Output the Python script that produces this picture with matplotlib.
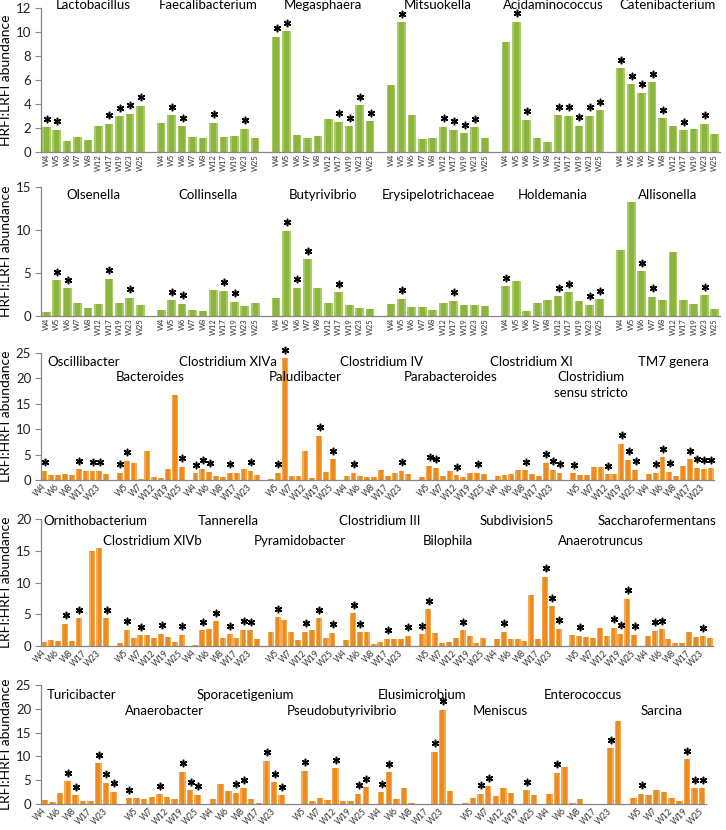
import matplotlib
matplotlib.use('Agg')
import matplotlib.pyplot as plt
import matplotlib.transforms as mtransforms
import numpy as np

plt.rcParams['font.family'] = ['Lato', 'DejaVu Sans']

weeks = ['W4', 'W5', 'W6', 'W7', 'W8', 'W12', 'W17', 'W19', 'W23', 'W25']

# ---- panel 1 (HRFI:LRFI) ----
row1_genera = ['Lactobacillus', 'Faecalibacterium', 'Megasphaera', 'Mitsuokella',
               'Acidaminococcus', 'Catenibacterium']
row1_values = [
    [2.06, 1.86, 0.89, 1.25, 1.03, 2.14, 2.36, 2.97, 3.19, 3.86],
    [2.42, 3.05, 2.16, 1.22, 1.17, 2.44, 1.27, 1.32, 1.92, 1.16],
    [9.60, 10.05, 1.42, 1.20, 1.33, 2.77, 2.50, 2.14, 3.90, 2.55],
    [5.60, 10.80, 3.08, 1.06, 1.19, 2.11, 1.86, 1.58, 2.08, 1.14],
    [9.14, 10.86, 2.70, 1.14, 0.86, 3.08, 3.03, 2.19, 3.03, 3.47],
    [6.97, 5.64, 4.92, 5.80, 2.80, 2.14, 1.80, 1.92, 2.36, 1.53],
]
row1_stars = [
    ['W4', 'W5', 'W17', 'W19', 'W23', 'W25'],
    ['W5', 'W6', 'W12', 'W23'],
    ['W4', 'W5', 'W17', 'W19', 'W23', 'W25'],
    ['W5', 'W12', 'W17', 'W19', 'W23'],
    ['W5', 'W6', 'W12', 'W17', 'W19', 'W23', 'W25'],
    ['W4', 'W5', 'W6', 'W7', 'W8', 'W17', 'W23'],
]

# ---- panel 2 (HRFI:LRFI) ----
row2_genera = ['Olsenella', 'Collinsella', 'Butyrivibrio', 'Erysipelotrichaceae',
               'Holdemania', 'Allisonella']
row2_values = [
    [0.43, 4.17, 3.23, 1.52, 0.93, 1.44, 4.36, 1.52, 2.10, 1.29],
    [0.66, 1.83, 1.44, 0.74, 0.58, 3.00, 2.92, 1.68, 1.17, 1.52],
    [2.14, 9.93, 3.31, 6.58, 3.23, 1.52, 2.77, 1.29, 0.90, 0.78],
    [1.36, 2.03, 1.01, 1.05, 0.74, 1.52, 1.75, 1.29, 1.29, 1.21],
    [3.47, 4.09, 0.58, 1.52, 1.83, 2.30, 2.77, 1.75, 1.29, 1.95],
    [7.64, 13.20, 5.22, 2.26, 1.83, 7.44, 1.83, 1.36, 2.42, 0.82],
]
row2_stars = [
    ['W5', 'W6', 'W17', 'W23'],
    ['W5', 'W6', 'W17', 'W19'],
    ['W5', 'W6', 'W7', 'W17'],
    ['W5', 'W17'],
    ['W4', 'W12', 'W17', 'W23', 'W25'],
    ['W6', 'W7', 'W23'],
]

# ---- panel 3 (LRFI:HRFI) ----
row3_genera = ['Oscillibacter', 'Bacteroides', 'Clostridium XlVa', 'Paludibacter',
               'Clostridium IV', 'Parabacteroides', 'Clostridium XI',
               'Clostridium\nsensu stricto', 'TM7 genera']
row3_values = [
    [1.84, 0.92, 0.92, 1.18, 1.05, 2.10, 1.71, 1.84, 1.84, 1.18],
    [1.45, 3.80, 3.40, 0.13, 5.80, 0.53, 0.40, 2.24, 16.70, 2.63],
    [1.30, 2.24, 1.58, 0.79, 0.66, 1.45, 1.45, 2.10, 1.84, 0.92],
    [0.20, 1.45, 23.95, 0.72, 0.85, 5.80, 0.40, 8.68, 1.58, 4.08],
    [0.79, 1.38, 0.79, 0.66, 0.66, 1.90, 0.72, 1.38, 1.78, 1.12],
    [0.53, 2.76, 2.37, 0.79, 1.84, 0.92, 0.66, 1.45, 1.45, 1.12],
    [0.79, 0.99, 1.12, 1.90, 1.90, 1.12, 0.79, 3.42, 1.97, 1.45],
    [1.32, 0.92, 0.92, 2.63, 2.63, 1.18, 1.18, 7.10, 3.95, 1.97],
    [1.18, 1.45, 4.47, 1.58, 0.79, 2.83, 4.08, 2.43, 2.24, 2.30],
]
row3_stars = [
    ['W4', 'W12', 'W19', 'W23'],
    ['W4', 'W5', 'W25'],
    ['W4', 'W5', 'W6', 'W12', 'W23'],
    ['W5', 'W6', 'W19', 'W25'],
    ['W5', 'W23'],
    ['W5', 'W6', 'W12', 'W23'],
    ['W8', 'W19', 'W23', 'W25'],
    ['W4', 'W12', 'W19', 'W23', 'W25'],
    ['W5', 'W6', 'W7', 'W17', 'W19', 'W23', 'W25'],
]

# ---- panel 4 (LRFI:HRFI) ----
row4_genera = ['Ornithobacterium', 'Clostridium XlVb', 'Tannerella', 'Pyramidobacter',
               'Clostridium III', 'Bilophila', 'Subdivision5', 'Anaerotruncus',
               'Saccharofermentans']
row4_values = [
    [0.63, 0.90, 0.80, 3.50, 0.80, 4.38, 0.00, 15.00, 15.50, 4.38],
    [0.47, 2.53, 1.32, 1.69, 1.69, 1.32, 1.95, 1.42, 0.63, 1.74],
    [0.16, 2.48, 2.70, 3.90, 1.32, 1.85, 1.32, 2.53, 2.48, 1.06],
    [2.16, 4.49, 4.17, 2.20, 0.90, 2.27, 2.53, 4.38, 1.32, 2.06],
    [0.90, 5.12, 2.16, 2.20, 0.26, 0.63, 1.16, 1.06, 1.16, 1.58],
    [1.85, 5.75, 2.06, 0.47, 0.58, 1.32, 2.48, 1.53, 0.47, 1.21],
    [1.06, 2.27, 1.06, 1.16, 0.84, 7.97, 1.06, 10.90, 6.28, 2.74],
    [1.74, 1.64, 1.42, 1.27, 2.80, 1.53, 2.85, 1.90, 7.44, 1.79],
    [1.58, 2.43, 2.64, 1.16, 0.53, 0.53, 2.22, 1.37, 1.53, 1.27],
]
row4_stars = [
    ['W7', 'W12', 'W25'],
    ['W5', 'W7', 'W17', 'W25'],
    ['W5', 'W7', 'W12', 'W19', 'W23'],
    ['W5', 'W12', 'W19', 'W25'],
    ['W5', 'W6', 'W17', 'W25'],
    ['W4', 'W5', 'W17'],
    ['W5', 'W19', 'W23', 'W25'],
    ['W5', 'W17', 'W19', 'W23', 'W25'],
    ['W5', 'W6', 'W23'],
]

# ---- panel 5 (LRFI:HRFI) ----
row5_genera = ['Turicibacter', 'Anaerobacter', 'Sporacetigenium', 'Pseudobutyrivibrio',
               'Elusimicrobium', 'Meniscus', 'Enterococcus', 'Sarcina']
row5_values = [
    [0.84, 0.49, 2.37, 4.75, 1.82, 0.70, 0.70, 8.52, 4.47, 2.58],
    [1.26, 1.26, 1.12, 1.54, 2.10, 1.40, 1.12, 6.77, 2.93, 1.96],
    [1.05, 4.19, 2.65, 2.37, 3.35, 1.05, 0.21, 9.08, 4.54, 1.82],
    [0.07, 6.98, 0.63, 1.26, 0.84, 7.54, 0.70, 0.70, 2.16, 3.49],
    [2.44, 6.70, 1.12, 3.42, 0.14, 0.00, 0.00, 10.96, 19.76, 2.79],
    [0.28, 1.33, 2.16, 3.77, 1.60, 3.35, 2.37, 0.00, 2.93, 1.82],
    [2.10, 6.56, 7.68, 0.21, 1.12, 0.00, 0.00, 0.00, 11.66, 17.53],
    [1.19, 2.16, 1.82, 3.00, 2.44, 1.33, 0.70, 9.36, 3.28, 3.28],
]
row5_stars = [
    ['W7', 'W8', 'W19', 'W23', 'W25'],
    ['W4', 'W8', 'W19', 'W23', 'W25'],
    ['W7', 'W8', 'W19', 'W23', 'W25'],
    ['W5', 'W12', 'W23', 'W25'],
    ['W4', 'W5', 'W19', 'W23'],
    ['W6', 'W7', 'W23'],
    ['W5', 'W23'],
    ['W5', 'W19', 'W23', 'W25'],
]

# layout (pixels from top-left of the 726x830 canvas)
W, H = 726, 830
# (outer, inner) colours give the bars a light-edged, darker-centred look
GREEN = ('#a6cc63', '#8bb53f')
ORANGE = ('#f6aa52', '#ee8b20')

# genus label positions for the staggered rows: (x in slot units, level)
row3_label_pos = [(0.5, 0), (10.4, 1), (19.6, 0), (32.7, 1), (43.0, 0),
                  (52.3, 1), (64.9, 0), (79.6, 1), (86.5, 0)]
row4_label_pos = [(-0.1, 0), (8.5, 1), (22.4, 0), (30.5, 1), (42.9, 0),
                  (55.2, 1), (63.4, 0), (74.9, 1), (80.7, 0)]
row5_label_pos = [(0.3, 0), (10.5, 1), (19.9, 0), (31.6, 1), (43.5, 0),
                  (56.0, 1), (65.3, 0), (78.0, 1)]

panels = [
    dict(genera=row1_genera, values=row1_values, stars=row1_stars, box=(41, 720, 8, 152),
         ymax=12, yticks=np.arange(0, 13, 2), ylabel='HRFI:LRFI abundance',
         color=GREEN, width=0.82, rot=90, every=1,
         label_pos=None, label_y=(11.88,)),
    dict(genera=row2_genera, values=row2_values, stars=row2_stars, box=(41, 720, 187, 316),
         ymax=15, yticks=[0, 5, 10, 15], ylabel='HRFI:LRFI abundance',
         color=GREEN, width=0.84, rot=90, every=1,
         label_pos=None, label_y=(13.57,)),
    dict(genera=row3_genera, values=row3_values, stars=row3_stars, box=(41, 714, 353, 480),
         ymax=25, yticks=[0, 5, 10, 15, 20, 25], ylabel='LRFI:HRFI abundance',
         color=ORANGE, width=0.86, rot=45, every=2,
         label_pos=row3_label_pos, label_y=(22.44, 19.55, 16.4)),
    dict(genera=row4_genera, values=row4_values, stars=row4_stars, box=(41, 713, 519, 646),
         ymax=20, yticks=[0, 5, 10, 15, 20], ylabel='LRFI:HRFI abundance',
         color=ORANGE, width=0.86, rot=45, every=2,
         label_pos=row4_label_pos, label_y=(19.0, 15.86)),
    dict(genera=row5_genera, values=row5_values, stars=row5_stars, box=(41, 706, 685, 804),
         ymax=25, yticks=[0, 5, 10, 15, 20, 25], ylabel='LRFI:HRFI abundance',
         color=ORANGE, width=0.86, rot=45, every=2,
         label_pos=row5_label_pos, label_y=(22.06, 18.76)),
]

fig = plt.figure(figsize=(W / 100, H / 100), dpi=100)
axis_grey = '#868686'

for p in panels:
    left, right, top, bottom = p['box']
    ax = fig.add_axes([left / W, 1 - bottom / H, (right - left) / W, (bottom - top) / H])
    n_groups = len(p['genera'])
    n_slots = n_groups * 11 - 1

    xs, hs, tick_pos, tick_lab = [], [], [], []
    star_x, star_y = [], []
    for g, (vals, st) in enumerate(zip(p['values'], p['stars'])):
        for i, wk in enumerate(weeks):
            s = g * 11 + i
            xs.append(s)
            hs.append(vals[i])
            if s % p['every'] == 0:
                tick_pos.append(s)
                tick_lab.append(wk)
            if wk in st:
                star_x.append(s)
                star_y.append(vals[i])

    outer, inner = p['color']
    ax.bar(xs, hs, width=p['width'], color=outer, linewidth=0, zorder=2)
    ax.bar(xs, hs, width=p['width'] * 0.6, color=inner, linewidth=0, zorder=2.1)

    # significance asterisks a few pixels above each bar
    star_tr = mtransforms.offset_copy(ax.transData, fig=fig, x=0.5, y=8.5, units='dots')
    ax.plot(star_x, star_y, linestyle='none', marker=(6, 2, 0), markersize=5.4,
            markeredgewidth=1.1, color='black', transform=star_tr, clip_on=False, zorder=3)

    ax.set_xlim(-0.5, n_slots - 0.5)
    ax.set_ylim(0, p['ymax'])
    ax.set_yticks(p['yticks'])
    ax.tick_params(axis='y', labelsize=9.5, length=4, color=axis_grey, pad=3,
                   labelcolor='#222222')
    ax.set_xticks(tick_pos)
    if p['rot'] == 90:
        ax.set_xticklabels(tick_lab, rotation=90, fontsize=5.5, color='#333333')
        ax.tick_params(axis='x', length=0, pad=1.5)
    else:
        ax.set_xticklabels(tick_lab, rotation=45, fontsize=6.2, color='#333333',
                           ha='right', va='center', rotation_mode='anchor')
        ax.tick_params(axis='x', length=0, pad=4)
    for side in ['top', 'right']:
        ax.spines[side].set_visible(False)
    for side in ['left', 'bottom']:
        ax.spines[side].set_color(axis_grey)
        ax.spines[side].set_linewidth(0.9)
    ax.set_ylabel(p['ylabel'], fontsize=10, labelpad=4)
    ax.yaxis.set_label_coords(-(left - 12) / (right - left), 0.5)

    # genus names
    for g, name in enumerate(p['genera']):
        if p['label_pos'] is None:
            ax.text(g * 11 + 4.5, p['label_y'][0], name, ha='center', va='baseline',
                    fontsize=9.5, clip_on=False)
        else:
            lx, lev = p['label_pos'][g]
            if '\n' in name:
                first, second = name.split('\n')
                ax.text(lx, p['label_y'][1], first, ha='center', va='baseline', fontsize=9.5)
                ax.text(lx, p['label_y'][2], second, ha='center', va='baseline', fontsize=9.5)
            else:
                ax.text(lx, p['label_y'][lev], name, ha='left', va='baseline', fontsize=9.5)

fig.savefig('out.png', dpi=100)
